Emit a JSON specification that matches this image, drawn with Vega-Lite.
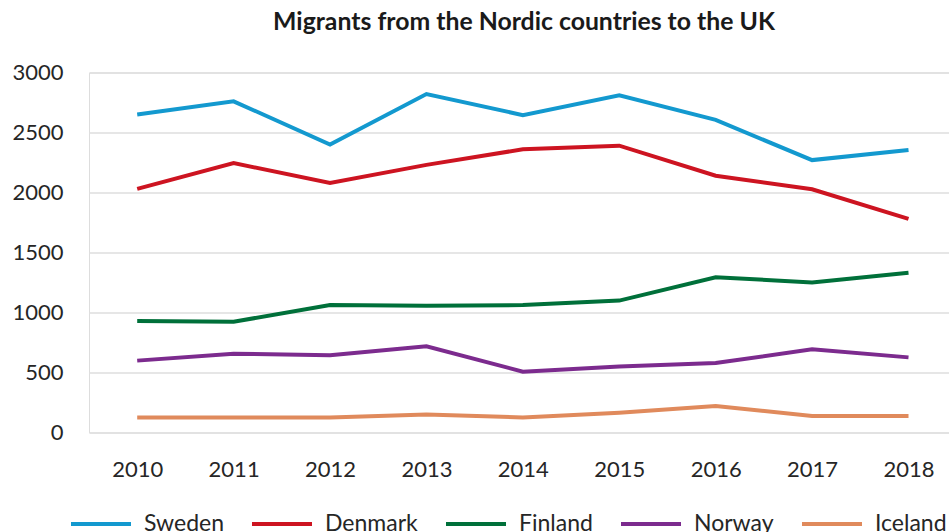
{
  "$schema": "https://vega.github.io/schema/vega-lite/v6.json",
  "autosize": {"type": "none"},
  "width": 860,
  "height": 360,
  "padding": {"left": 89, "top": 72.5, "right": 0, "bottom": 99.5},
  "background": "white",
  "title": {
    "text": "Migrants from the Nordic countries to the UK",
    "font": "Lato",
    "fontSize": 24.8,
    "fontWeight": "bold",
    "color": "#1a1a1a",
    "anchor": "middle",
    "dx": 5,
    "offset": 27
  },
  "data": {
    "values": [
      {"country": "Sweden", "year": 2010, "migrants": 2650},
      {"country": "Sweden", "year": 2011, "migrants": 2760},
      {"country": "Sweden", "year": 2012, "migrants": 2400},
      {"country": "Sweden", "year": 2013, "migrants": 2820},
      {"country": "Sweden", "year": 2014, "migrants": 2645},
      {"country": "Sweden", "year": 2015, "migrants": 2810},
      {"country": "Sweden", "year": 2016, "migrants": 2605},
      {"country": "Sweden", "year": 2017, "migrants": 2270},
      {"country": "Sweden", "year": 2018, "migrants": 2355},
      {"country": "Denmark", "year": 2010, "migrants": 2030},
      {"country": "Denmark", "year": 2011, "migrants": 2245},
      {"country": "Denmark", "year": 2012, "migrants": 2080},
      {"country": "Denmark", "year": 2013, "migrants": 2230},
      {"country": "Denmark", "year": 2014, "migrants": 2360},
      {"country": "Denmark", "year": 2015, "migrants": 2390},
      {"country": "Denmark", "year": 2016, "migrants": 2140},
      {"country": "Denmark", "year": 2017, "migrants": 2027},
      {"country": "Denmark", "year": 2018, "migrants": 1780},
      {"country": "Finland", "year": 2010, "migrants": 929},
      {"country": "Finland", "year": 2011, "migrants": 923},
      {"country": "Finland", "year": 2012, "migrants": 1062},
      {"country": "Finland", "year": 2013, "migrants": 1057},
      {"country": "Finland", "year": 2014, "migrants": 1062},
      {"country": "Finland", "year": 2015, "migrants": 1099},
      {"country": "Finland", "year": 2016, "migrants": 1293},
      {"country": "Finland", "year": 2017, "migrants": 1251},
      {"country": "Finland", "year": 2018, "migrants": 1332},
      {"country": "Norway", "year": 2010, "migrants": 599},
      {"country": "Norway", "year": 2011, "migrants": 657},
      {"country": "Norway", "year": 2012, "migrants": 643},
      {"country": "Norway", "year": 2013, "migrants": 718},
      {"country": "Norway", "year": 2014, "migrants": 507},
      {"country": "Norway", "year": 2015, "migrants": 551},
      {"country": "Norway", "year": 2016, "migrants": 579},
      {"country": "Norway", "year": 2017, "migrants": 693},
      {"country": "Norway", "year": 2018, "migrants": 626},
      {"country": "Iceland", "year": 2010, "migrants": 126},
      {"country": "Iceland", "year": 2011, "migrants": 126},
      {"country": "Iceland", "year": 2012, "migrants": 126},
      {"country": "Iceland", "year": 2013, "migrants": 149},
      {"country": "Iceland", "year": 2014, "migrants": 126},
      {"country": "Iceland", "year": 2015, "migrants": 165},
      {"country": "Iceland", "year": 2016, "migrants": 221},
      {"country": "Iceland", "year": 2017, "migrants": 137},
      {"country": "Iceland", "year": 2018, "migrants": 137}
    ]
  },
  "mark": {"type": "line", "strokeWidth": 4, "strokeJoin": "miter", "strokeCap": "butt"},
  "encoding": {
    "x": {
      "field": "year",
      "type": "quantitative",
      "scale": {"domain": [2009.5, 2018.42], "nice": false, "zero": false},
      "axis": {
        "title": null,
        "values": [2010, 2011, 2012, 2013, 2014, 2015, 2016, 2017, 2018],
        "format": "d",
        "grid": false,
        "ticks": false,
        "domain": false,
        "labelFont": "Lato",
        "labelFontSize": 22,
        "labelColor": "#262626",
        "labelPadding": 27
      }
    },
    "y": {
      "field": "migrants",
      "type": "quantitative",
      "scale": {"domain": [0, 3000], "nice": false},
      "axis": {
        "title": null,
        "values": [0, 500, 1000, 1500, 2000, 2500, 3000],
        "format": "d",
        "grid": true,
        "gridColor": "#dedede",
        "gridWidth": 1.3,
        "ticks": false,
        "domain": false,
        "labelFont": "Lato",
        "labelFontSize": 22,
        "labelColor": "#262626",
        "labelPadding": 26
      }
    },
    "color": {
      "field": "country",
      "type": "nominal",
      "scale": {
        "domain": ["Sweden", "Denmark", "Finland", "Norway", "Iceland"],
        "range": ["#1399cf", "#cd1421", "#00703a", "#7c2b8e", "#e08a5c"]
      },
      "legend": {
        "title": null,
        "orient": "none",
        "direction": "horizontal",
        "legendX": -20,
        "legendY": 419.5,
        "symbolType": "stroke",
        "symbolSize": 3600,
        "symbolStrokeWidth": 4,
        "labelFont": "Lato",
        "labelFontSize": 23,
        "labelColor": "#262626",
        "labelOffset": 11,
        "columnPadding": 20,
        "labelLimit": 200
      }
    }
  }
}
